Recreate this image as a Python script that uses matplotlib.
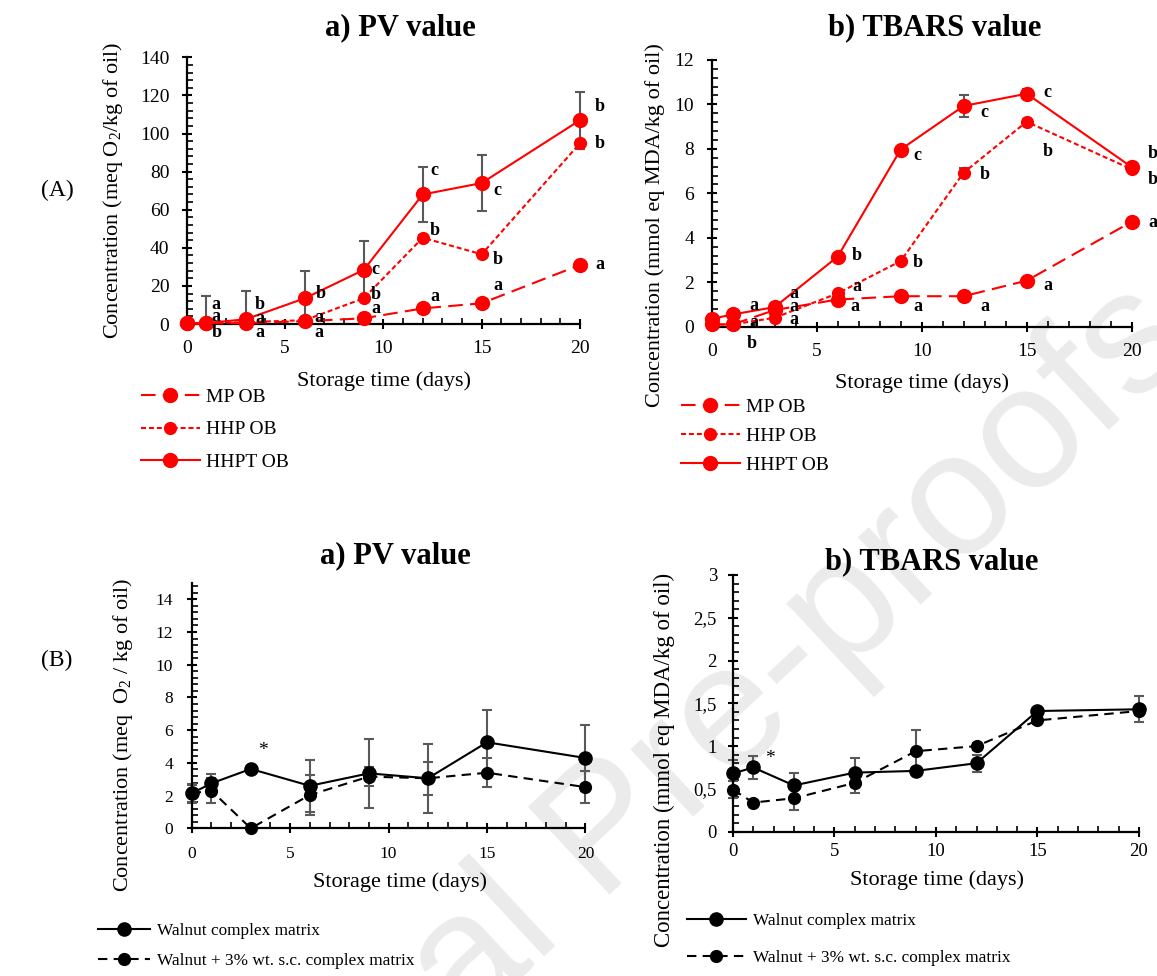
import matplotlib
matplotlib.use("Agg")
import matplotlib.pyplot as plt
from matplotlib.ticker import MultipleLocator, FuncFormatter

plt.rcParams['font.family'] = ['Liberation Serif', 'DejaVu Serif']
plt.rcParams['mathtext.fontset'] = 'custom'
plt.rcParams['mathtext.rm'] = 'Liberation Serif'
plt.rcParams['mathtext.it'] = 'Liberation Serif:italic'

days = [0, 1, 3, 6, 9, 12, 15, 20]

# (A) oleogels - PV
pv_mp = [0.3, 0.3, 0.5, 1.5, 3.0, 8.2, 10.9, 31.0]
pv_hhp = [0.3, 0.3, 1.0, 2.0, 13.5, 45.3, 36.6, 94.9]
pv_hhpt = [0.5, 0.5, 2.5, 13.5, 28.4, 68.0, 74.0, 107.0]
pv_mp_err = [0, 0, 0, 0, 0.5, 0.5, 0.5, 0.8]
pv_hhp_err = [0, 0, 0, 0, 0.8, 1.5, 1.5, 1.5]
pv_hhpt_err = [0, 14, 15, 14.5, 15, 14.5, 14.5, 15]

# (A) oleogels - TBARS
tb_mp = [0.1, 0.1, 0.75, 1.22, 1.37, 1.37, 2.07, 4.72]
tb_hhp = [0.1, 0.1, 0.4, 1.5, 2.95, 6.93, 9.22, 7.08]
tb_hhpt = [0.35, 0.55, 0.88, 3.15, 7.97, 9.93, 10.48, 7.18]
tb_mp_err = [0, 0, 0, 0, 0, 0, 0.1, 0.15]
tb_hhp_err = [0, 0, 0, 0.1, 0.1, 0.2, 0.1, 0.1]
tb_hhpt_err = [0, 0, 0, 0, 0, 0.5, 0.2, 0.15]

# significance letters (day position, value, letter)
pv_letters = [(1.5, 10.5, 'a'), (1.5, 4.0, 'a'), (1.5, -4.5, 'b'),
              (3.7, 10.0, 'b'), (3.7, 3.0, 'a'), (3.7, -4.5, 'a'),
              (6.8, 16.0, 'b'), (6.7, 3.5, 'a'), (6.7, -4.5, 'a'),
              (9.6, 28.7, 'c'), (9.6, 15.7, 'b'), (9.6, 8.2, 'a'),
              (12.6, 80.8, 'c'), (12.6, 49.0, 'b'), (12.6, 14.3, 'a'),
              (15.8, 70.3, 'c'), (15.8, 34.0, 'b'), (15.8, 20.0, 'a'),
              (21.0, 114.0, 'b'), (21.0, 95.0, 'b'), (21.0, 31.0, 'a')]
tb_letters = [(2.0, 0.93, 'a'), (2.0, 0.18, 'a'), (1.9, -0.75, 'b'),
              (3.9, 1.5, 'a'), (3.9, 0.9, 'a'), (3.9, 0.33, 'a'),
              (6.9, 3.22, 'b'), (6.9, 1.8, 'a'), (6.8, 0.9, 'a'),
              (9.8, 7.72, 'c'), (9.8, 2.88, 'b'), (9.8, 0.9, 'a'),
              (13.0, 9.63, 'c'), (13.0, 6.83, 'b'), (13.0, 0.9, 'a'),
              (16.0, 10.53, 'c'), (16.0, 7.87, 'b'), (16.0, 1.87, 'a'),
              (21.0, 7.77, 'b'), (21.0, 6.63, 'b'), (21.0, 4.68, 'a')]

# (B) walnut matrices
pvw = [2.14, 2.75, 3.63, 2.6, 3.36, 3.06, 5.26, 4.3]
pvw_err = [0.6, 0.55, 0.2, 1.6, 2.1, 2.1, 2.0, 2.0]
pvs = [2.14, 2.3, 0.0, 2.04, 3.16, 3.06, 3.4, 2.52]
pvs_err = [0.5, 0.75, 0.1, 1.2, 0.6, 1.0, 0.9, 1.0]

tbw = [0.68, 0.75, 0.54, 0.69, 0.71, 0.8, 1.41, 1.43]
tbw_err = [0.16, 0.13, 0.15, 0.17, 0.05, 0.1, 0.03, 0.15]
tbs = [0.49, 0.34, 0.39, 0.57, 0.94, 1.0, 1.3, 1.41]
tbs_err = [0.1, 0.03, 0.14, 0.12, 0.25, 0.04, 0.04, 0.05]

red = '#ff0000'
grey = '#595959'

fig = plt.figure(figsize=(11.57, 9.76), dpi=100)


def style_axes(ax, ymax, ymajor, yminor, size, xpad, ypad):
    ax.set_facecolor('none')
    ax.set_xlim(0, 20)
    ax.set_ylim(0, ymax)
    for s in ['top', 'right']:
        ax.spines[s].set_visible(False)
    for s in ['left', 'bottom']:
        ax.spines[s].set_linewidth(1.6)
    ax.xaxis.set_major_locator(MultipleLocator(5))
    ax.xaxis.set_minor_locator(MultipleLocator(1))
    ax.yaxis.set_major_locator(MultipleLocator(ymajor))
    ax.yaxis.set_minor_locator(MultipleLocator(yminor))
    ax.tick_params(which='major', direction='inout', length=7, width=1.5, labelsize=size)
    ax.tick_params(which='minor', direction='in', length=4, width=1.2)
    ax.tick_params(axis='x', which='major', pad=xpad)
    ax.tick_params(axis='y', which='major', pad=ypad)


def draw_err(ax, vals, err, cap):
    # error bars are cut at the x axis
    low = [min(e, v) for v, e in zip(vals, err)]
    ax.errorbar(days, vals, yerr=[low, err], fmt='none', ecolor=grey, elinewidth=1.5,
                capsize=cap, capthick=1.5, zorder=2, clip_on=False)


def red_panel(ax, mp, hhp, hhpt, mp_err, hhp_err, hhpt_err, letters):
    draw_err(ax, mp, mp_err, 3.6)
    draw_err(ax, hhp, hhp_err, 3.6)
    draw_err(ax, hhpt, hhpt_err, 3.6)
    ax.plot(days, mp, color=red, lw=1.5, dashes=(7, 3.5), marker='o', ms=10,
            label='MP OB', zorder=3, clip_on=False)
    ax.plot(days, hhp, color=red, lw=1.5, dashes=(2.4, 1.4), marker='o', ms=8.5,
            label='HHP OB', zorder=3, clip_on=False)
    ax.plot(days, hhpt, color=red, lw=1.5, marker='o', ms=10,
            label='HHPT OB', zorder=3, clip_on=False)
    for x, y, t in letters:
        ax.text(x, y, t, fontsize=13, fontweight='bold', ha='center', va='center')


def black_panel(ax, w, w_err, s, s_err):
    draw_err(ax, w, w_err, 3.3)
    draw_err(ax, s, s_err, 3.3)
    ax.plot(days, w, color='black', lw=1.5, marker='o', ms=9.5,
            label='Walnut complex matrix', zorder=3, clip_on=False)
    ax.plot(days, s, color='black', lw=1.5, dashes=(4.5, 3), marker='o', ms=8.5,
            label='Walnut + 3% wt. s.c. complex matrix', zorder=3, clip_on=False)


# top left: PV
ax1 = fig.add_axes([0.1614, 0.668, 0.3399, 0.2733])
style_axes(ax1, 140, 20, 4, 14, 8, 9)
red_panel(ax1, pv_mp, pv_hhp, pv_hhpt, pv_mp_err, pv_hhp_err, pv_hhpt_err, pv_letters)

# top right: TBARS
ax2 = fig.add_axes([0.6151, 0.6653, 0.363, 0.2733])
style_axes(ax2, 12, 2, 0.4, 14, 8, 9)
red_panel(ax2, tb_mp, tb_hhp, tb_hhpt, tb_mp_err, tb_hhp_err, tb_hhpt_err, tb_letters)

# bottom left: PV walnut
ax3 = fig.add_axes([0.1657, 0.1513, 0.3403, 0.2514])
style_axes(ax3, 15, 2, 0.4, 12.5, 9.5, 10)
black_panel(ax3, pvw, pvw_err, pvs, pvs_err)
ax3.text(3.6, 4.75, '*', fontsize=14, ha='center', va='center')

# bottom right: TBARS walnut
ax4 = fig.add_axes([0.6335, 0.1479, 0.3509, 0.263])
style_axes(ax4, 3, 0.5, 0.1, 13.5, 5, 8)
black_panel(ax4, tbw, tbw_err, tbs, tbs_err)
ax4.yaxis.set_major_formatter(FuncFormatter(lambda v, p: ('%g' % v).replace('.', ',')))
ax4.text(1.8, 0.86, '*', fontsize=14, ha='center', va='center')

H, W = 976.0, 1157.0


def ftext(px, py, s, **kw):
    fig.text(px / W, 1 - py / H, s, ha='center', va='center', **kw)


ftext(400, 28, 'a) PV value', fontsize=22, fontweight='bold')
ftext(935, 28, 'b) TBARS value', fontsize=22, fontweight='bold')
ftext(395, 556, 'a) PV value', fontsize=22, fontweight='bold')
ftext(932, 562, 'b) TBARS value', fontsize=22, fontweight='bold')

ftext(384, 381, 'Storage time (days)', fontsize=16)
ftext(922, 383, 'Storage time (days)', fontsize=16)
ftext(400, 882, 'Storage time (days)', fontsize=16)
ftext(937, 880, 'Storage time (days)', fontsize=16)

ftext(113, 190, 'Concentration (meq O$_2$/kg of oil)', fontsize=16, rotation=90)
ftext(655, 225, 'Concentration (mmol eq MDA/kg of oil)', fontsize=16, rotation=90)
ftext(123, 735, 'Concentration (meq  O$_2$ / kg of oil)', fontsize=16, rotation=90)
ftext(664, 760, 'Concentration (mmol eq MDA/kg of oil)', fontsize=16.5, rotation=90)

ftext(57, 190, '(A)', fontsize=17)
ftext(57, 660, '(B)', fontsize=17)

# legends
ax1.legend(loc='upper left', bbox_to_anchor=(0.1216, 0.6025), bbox_transform=fig.transFigure,
           frameon=False, fontsize=14, handlelength=3.05, handletextpad=0.3,
           labelspacing=0.78, borderpad=0, borderaxespad=0)
ax2.legend(loc='upper left', bbox_to_anchor=(0.5883, 0.5922), bbox_transform=fig.transFigure,
           frameon=False, fontsize=14, handlelength=3.05, handletextpad=0.3,
           labelspacing=0.6, borderpad=0, borderaxespad=0)
ax3.legend(loc='upper left', bbox_to_anchor=(0.0847, 0.0546), bbox_transform=fig.transFigure,
           frameon=False, fontsize=12.4, handlelength=3.0, handletextpad=0.4,
           labelspacing=0.85, borderpad=0, borderaxespad=0)
ax4.legend(loc='upper left', bbox_to_anchor=(0.5935, 0.0646), bbox_transform=fig.transFigure,
           frameon=False, fontsize=12.4, handlelength=3.45, handletextpad=0.4,
           labelspacing=1.2, borderpad=0, borderaxespad=0)

# journal watermark
fig.text(640 / W, 1 - 805 / H, 'Journal Pre-proofs', fontsize=126, color='#ebebeb',
         family='Liberation Sans', rotation=43, rotation_mode='anchor',
         ha='center', va='center', zorder=-1)

fig.savefig('out.png', dpi=100)
